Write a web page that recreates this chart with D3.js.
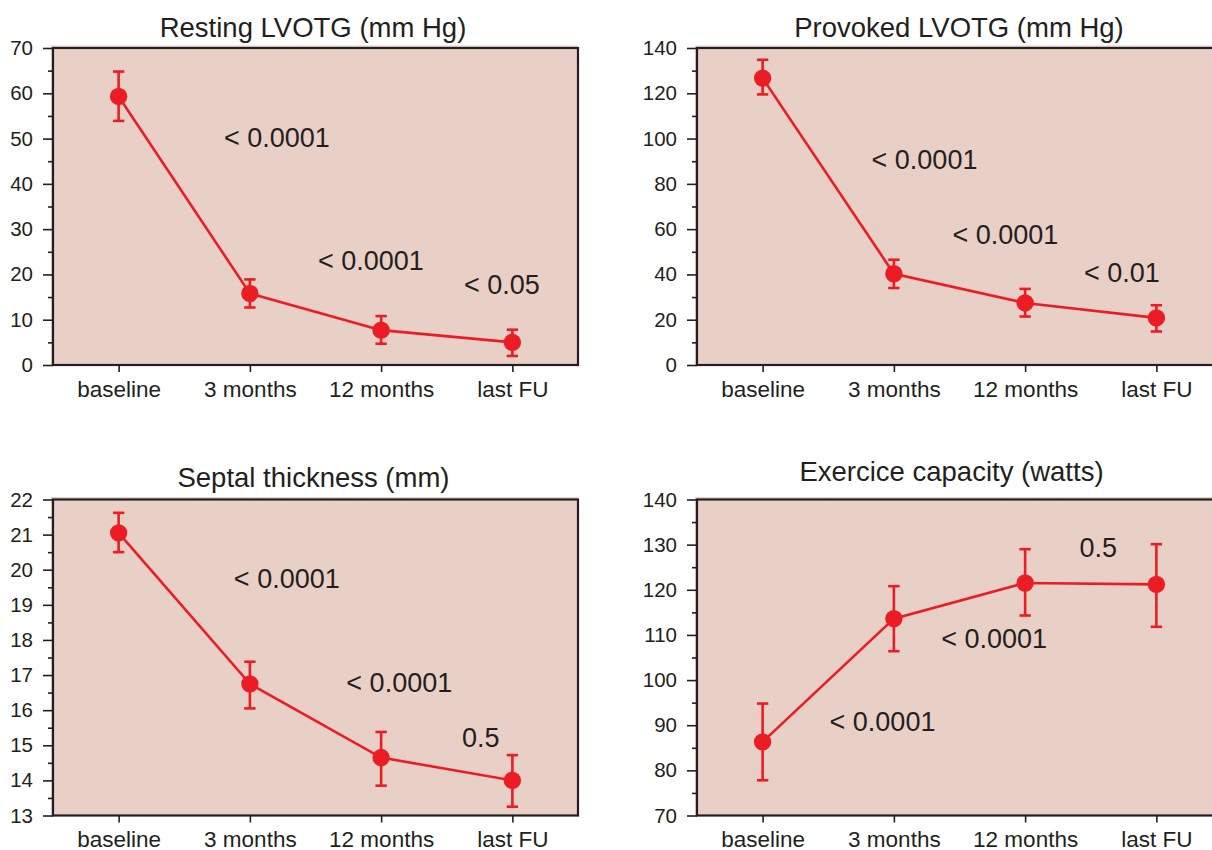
<!DOCTYPE html>
<html><head><meta charset="utf-8">
<script src="https://cdn.jsdelivr.net/npm/d3@7"></script>
<style>
html,body{margin:0;padding:0;background:#fff;}
svg{display:block;}
text{font-family:"Liberation Sans",Arial,sans-serif;fill:#231f20;}
</style></head><body>
<svg id="chart" width="1212" height="850"></svg>
<script>
// ---------- data ----------
const categories = ["baseline", "3 months", "12 months", "last FU"];

const restingMean = [59.3, 15.8, 7.7, 5.0];
const restingLow  = [53.9, 12.7, 4.7, 2.0];
const restingHigh = [64.8, 18.9, 10.8, 7.8];
const restingTicks = [0, 10, 20, 30, 40, 50, 60, 70];
const restingP = ["< 0.0001", "< 0.0001", "< 0.05"];

const provokedMean = [126.7, 40.3, 27.4, 20.8];
const provokedLow  = [119.5, 34.0, 21.4, 14.8];
const provokedHigh = [134.8, 46.5, 33.6, 26.4];
const provokedTicks = [0, 20, 40, 60, 80, 100, 120, 140];
const provokedP = ["< 0.0001", "< 0.0001", "< 0.01"];

const septalMean = [21.05, 16.75, 14.65, 14.0];
const septalLow  = [20.5, 16.05, 13.85, 13.25];
const septalHigh = [21.62, 17.38, 15.38, 14.72];
const septalTicks = [13, 14, 15, 16, 17, 18, 19, 20, 21, 22];
const septalP = ["< 0.0001", "< 0.0001", "0.5"];

const exerciseMean = [86.3, 113.6, 121.5, 121.2];
const exerciseLow  = [77.8, 106.4, 114.3, 111.8];
const exerciseHigh = [94.8, 120.8, 129.0, 130.1];
const exerciseTicks = [70, 80, 90, 100, 110, 120, 130, 140];
const exerciseP = ["< 0.0001", "< 0.0001", "0.5"];

// ---------- layout ----------
const RED = "#ec1c24", INK = "#231f20", FILL = "#e9d0c7";
const panels = [
  {title: "Resting LVOTG (mm Hg)", mean: restingMean, low: restingLow, high: restingHigh,
   ticks: restingTicks, p: restingP,
   left: 53, top: 48, w: 525, h: 317, titleX: 313, titleY: 36.7,
   pPos: [[0.803, 48.1], [1.519, 21.0], [2.631, 15.7]]},
  {title: "Provoked LVOTG (mm Hg)", mean: provokedMean, low: provokedLow, high: provokedHigh,
   ticks: provokedTicks, p: provokedP,
   left: 697, top: 48, w: 525, h: 317, titleX: 959, titleY: 37,
   pPos: [[0.83, 86.4], [1.447, 53.3], [2.449, 36.8]]},
  {title: "Septal thickness (mm)", mean: septalMean, low: septalLow, high: septalHigh,
   ticks: septalTicks, p: septalP,
   left: 53, top: 499.5, w: 525, h: 316, titleX: 313.5, titleY: 486.7,
   pPos: [[0.878, 19.49], [1.735, 16.53], [2.616, 14.95]]},
  {title: "Exercice capacity (watts)", mean: exerciseMean, low: exerciseLow, high: exerciseHigh,
   ticks: exerciseTicks, p: exerciseP,
   left: 697, top: 499.5, w: 525, h: 316, titleX: 951.5, titleY: 480.5,
   pPos: [[0.51, 88.8], [1.361, 107.0], [2.414, 127.3]]}
];

const svg = d3.select("#chart");

panels.forEach(pn => {
  const g = svg.append("g");
  const x = d3.scalePoint().domain(categories).range([pn.left, pn.left + pn.w]).padding(0.5);
  const xf = d3.scaleLinear().domain([-0.5, categories.length - 0.5]).range([pn.left, pn.left + pn.w]);
  const dom = [pn.ticks[0], pn.ticks[pn.ticks.length - 1]];
  const y = d3.scaleLinear().domain(dom).range([pn.top + pn.h, pn.top]);
  const step = pn.ticks[1] - pn.ticks[0];
  const minor = pn.ticks.slice(0, -1).map(t => t + step / 2);

  // background
  g.append("rect").attr("x", pn.left - 2).attr("y", pn.top - 2.5)
    .attr("width", pn.w + 2).attr("height", pn.h + 2.5).attr("fill", FILL);

  // y axis major
  const ya = g.append("g").attr("transform", `translate(${pn.left},0)`)
    .call(d3.axisLeft(y).tickValues(pn.ticks).tickSize(10).tickPadding(10).tickFormat(d3.format("d")));
  ya.select(".domain").remove();
  ya.selectAll("line").attr("stroke", INK).attr("stroke-width", 1.6);
  ya.selectAll("text").style("font-size", "20.5px").attr("fill", INK);
  // y axis minor
  const ym = g.append("g").attr("transform", `translate(${pn.left},0)`)
    .call(d3.axisLeft(y).tickValues(minor).tickSize(5).tickFormat(""));
  ym.select(".domain").remove();
  ym.selectAll("line").attr("stroke", INK).attr("stroke-width", 1.6);

  // x axis
  const xa = g.append("g").attr("transform", `translate(0,${pn.top + pn.h})`)
    .call(d3.axisBottom(x).tickSize(7).tickPadding(9));
  xa.select(".domain").remove();
  xa.selectAll("line").attr("stroke", INK).attr("stroke-width", 1.6);
  xa.selectAll("text").style("font-size", "22.5px").attr("fill", INK);

  // frame
  g.append("rect").attr("x", pn.left).attr("y", pn.top).attr("width", pn.w).attr("height", pn.h)
    .attr("fill", "none").attr("stroke", INK).attr("stroke-width", 2.2);

  // title
  g.append("text").attr("x", pn.titleX).attr("y", pn.titleY).attr("text-anchor", "middle")
    .style("font-size", "27.5px").text(pn.title);

  // p-values
  pn.p.forEach((t, i) => {
    g.append("text").attr("x", xf(pn.pPos[i][0])).attr("y", y(pn.pPos[i][1]))
      .style("font-size", "27px").text(t);
  });

  const pts = categories.map((c, i) => ({c, m: pn.mean[i], lo: pn.low[i], hi: pn.high[i]}));

  // line
  g.append("path").datum(pts)
    .attr("d", d3.line().x(d => x(d.c)).y(d => y(d.m)))
    .attr("fill", "none").attr("stroke", RED).attr("stroke-width", 2.6);

  // error bars
  const eb = g.selectAll(".eb").data(pts).enter().append("g");
  eb.append("line").attr("x1", d => x(d.c)).attr("x2", d => x(d.c))
    .attr("y1", d => y(d.lo)).attr("y2", d => y(d.hi)).attr("stroke", RED).attr("stroke-width", 2.6);
  eb.append("line").attr("x1", d => x(d.c) - 5.7).attr("x2", d => x(d.c) + 5.7)
    .attr("y1", d => y(d.hi)).attr("y2", d => y(d.hi)).attr("stroke", RED).attr("stroke-width", 2.6);
  eb.append("line").attr("x1", d => x(d.c) - 5.7).attr("x2", d => x(d.c) + 5.7)
    .attr("y1", d => y(d.lo)).attr("y2", d => y(d.lo)).attr("stroke", RED).attr("stroke-width", 2.6);

  // points
  g.selectAll(".pt").data(pts).enter().append("circle")
    .attr("cx", d => x(d.c)).attr("cy", d => y(d.m)).attr("r", 8.7).attr("fill", RED);
});
</script>
</body></html>
